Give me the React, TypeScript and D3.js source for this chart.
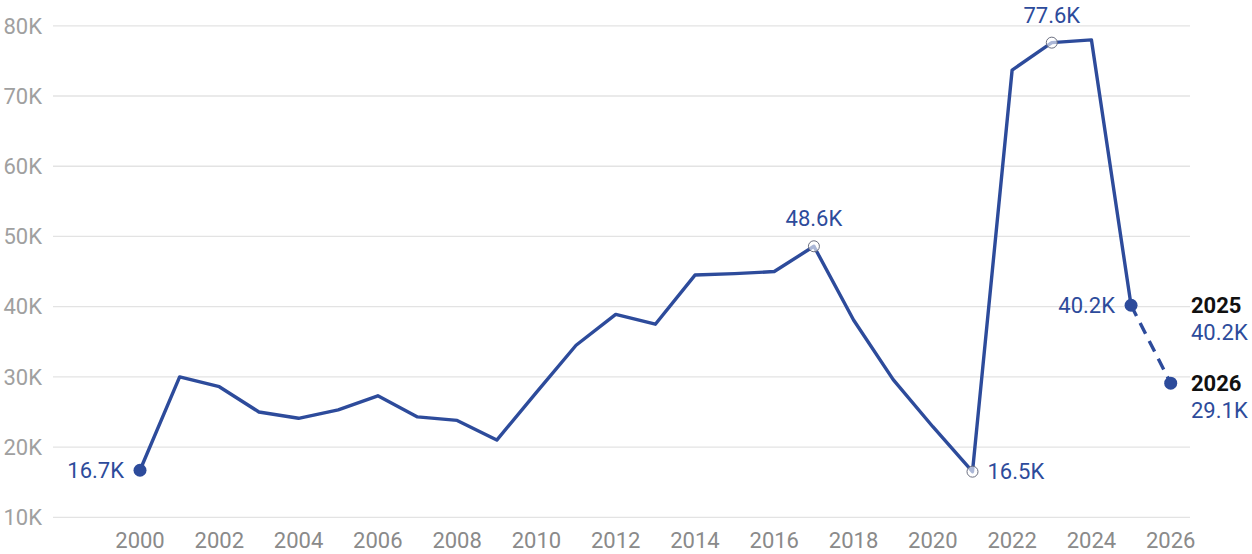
import React from "react";
import * as d3 from "d3";

const years = [2000,2001,2002,2003,2004,2005,2006,2007,2008,2009,2010,2011,2012,2013,2014,2015,2016,2017,2018,2019,2020,2021,2022,2023,2024,2025];
const values = [16.7,30.0,28.6,25.0,24.1,25.3,27.3,24.3,23.8,21.0,27.8,34.5,38.9,37.5,44.5,44.7,45.0,48.6,38.1,29.6,22.9,16.5,73.7,77.6,78.0,40.2];
const forecastYears = [2025, 2026];
const forecastValues = [40.2, 29.1];
const yTicks = [10,20,30,40,50,60,70,80];
const xTicks = [2000,2002,2004,2006,2008,2010,2012,2014,2016,2018,2020,2022,2024,2026];
const hollowYears = [2017, 2021, 2023];
const filledYears = [2000, 2025, 2026];

const W = 1252, H = 554;
const BLUE = "#2d4b9b";
const FONT = "Roboto, 'Noto Sans', sans-serif";
const FS = 22;

export default function App() {
  const x = d3.scaleLinear().domain([2000, 2026]).range([140, 1170.7]);
  const y = d3.scaleLinear().domain([10, 80]).range([517.3, 25.8]);
  const fmt = (v: number) => `${v.toFixed(1)}K`;
  const line = d3.line<[number, number]>().x(d => x(d[0])).y(d => y(d[1]));
  const main: [number, number][] = years.map((yr, i) => [yr, values[i]]);
  const fc: [number, number][] = forecastYears.map((yr, i) => [yr, forecastValues[i]]);
  const allY = [...years, 2026];
  const allV = [...values, forecastValues[1]];
  const val = (yr: number) => allV[allY.indexOf(yr)];
  return (
    <svg width={W} height={H} style={{ position: "absolute", left: 0, top: 0 }} fontFamily={FONT}>
      <rect width={W} height={H} fill="#fff" />
      {yTicks.map(t => (
        <g key={t}>
          <line x1={53} x2={1190} y1={y(t)} y2={y(t)} stroke="#e3e3e3" strokeWidth={1.3} />
          <text x={42} y={y(t)} dy="0.35em" textAnchor="end" fontSize={FS} fill="#a0a0a0">{`${t}K`}</text>
        </g>
      ))}
      {xTicks.map(t => (
        <text key={t} x={x(t)} y={548} textAnchor="middle" fontSize={FS} fill="#8a8a8a">{t}</text>
      ))}
      <path d={line(main) || ""} fill="none" stroke={BLUE} strokeWidth={3.4} strokeLinejoin="round" />
      <path d={line(fc) || ""} fill="none" stroke={BLUE} strokeWidth={3.4} strokeDasharray="12,8" />
      {hollowYears.map(yr => (
        <circle key={yr} cx={x(yr)} cy={y(val(yr))} r={5.5} fill="#fff" fillOpacity={0.6} stroke="#6b6f80" strokeWidth={1} />
      ))}
      {filledYears.map(yr => (
        <circle key={yr} cx={x(yr)} cy={y(val(yr))} r={6.5} fill={BLUE} />
      ))}
      <text x={x(2000) - 16} y={y(16.7)} dy="0.35em" textAnchor="end" fontSize={FS} fill={BLUE}>{fmt(16.7)}</text>
      <text x={x(2017)} y={y(48.6) - 20} textAnchor="middle" fontSize={FS} fill={BLUE}>{fmt(48.6)}</text>
      <text x={x(2023)} y={y(77.6) - 20} textAnchor="middle" fontSize={FS} fill={BLUE}>{fmt(77.6)}</text>
      <text x={x(2021) + 15} y={y(16.5)} dy="0.35em" textAnchor="start" fontSize={FS} fill={BLUE}>{fmt(16.5)}</text>
      <text x={x(2025) - 16} y={y(40.2)} dy="0.35em" textAnchor="end" fontSize={FS} fill={BLUE}>{fmt(40.2)}</text>
      {forecastYears.map((yr, i) => (
        <g key={yr}>
          <text x={1191} y={y(forecastValues[i])} dy="0.35em" fontSize={FS} fontWeight="bold" fill="#111">{yr}</text>
          <text x={1191} y={y(forecastValues[i]) + 27} dy="0.35em" fontSize={FS} fill={BLUE}>{fmt(forecastValues[i])}</text>
        </g>
      ))}
    </svg>
  );
}
